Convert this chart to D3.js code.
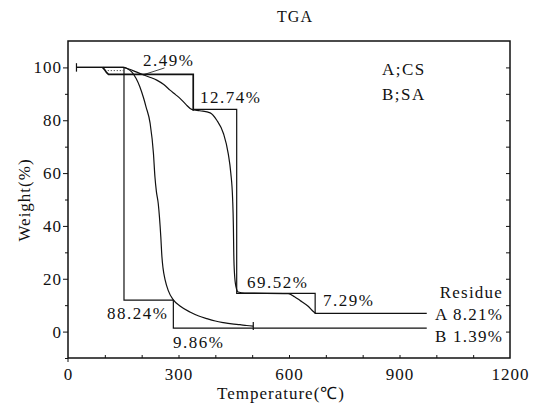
<!DOCTYPE html>
<head>
  <meta charset="utf-8">
  <script src="https://d3js.org/d3.v7.min.js"></script>
  <style>
    body { margin:0; background:#fff; }
    text { font-family: "Liberation Serif", serif; font-size: 17px; fill: #111; letter-spacing: 1px; }
    .curve, .step { fill: none; stroke: #111; stroke-width: 1.2; }
    .axis path, .axis line { stroke: #111; }
  </style>
</head>
<body>
  <svg width="536" height="407"></svg>
  <script>
    // curve A (CS) : temperature, weight %
    var tempA   = [23, 150, 165, 185, 204, 222, 241, 260, 277, 292, 304, 320, 336, 358, 386, 404, 422, 435, 442, 447, 449, 450, 452, 456, 462, 480, 598, 615, 630, 652, 666, 672];
    var weightA = [100, 100, 99.4, 98.3, 97.2, 96.3, 95.2, 93.5, 91.4, 89.7, 88.3, 86, 84.1, 83.6, 82.8, 80, 75, 67.4, 60, 50, 40, 30, 22, 17, 15, 14.6, 14.4, 13.2, 11.8, 9.6, 7.6, 6.9];
    // curve B (SA)
    var tempB   = [23, 150, 160, 173, 185, 195, 205, 212, 223, 232, 236, 240, 245, 252, 255, 258, 264, 272, 286, 305, 331, 355, 377, 400, 422, 445, 467, 485, 503];
    var weightB = [100, 100, 99.6, 98.3, 95.8, 92.7, 88.5, 85, 78.8, 67.4, 58.6, 53, 48.5, 35.8, 28.3, 24, 19.4, 15.6, 12, 9.6, 7.4, 5.9, 4.9, 4.0, 3.4, 2.9, 2.6, 2.3, 2.1];

    // step (tangent) constructions
    var stepA1 = [[94, 100], [100, 99], [105, 98], [110, 97.4], [340, 97.4], [340, 83.6]];
    var stepA2 = [[340, 84.1], [458, 84.1], [458, 14.5], [671, 14.5], [671, 6.9], [974, 6.9]];
    var stepB  = [[152, 100], [152, 11.9], [286, 11.9], [286, 1.3], [974, 1.3]];
    var dottedA = [[108, 98.8], [150, 98.8]];
    var leader  = [[204, 97.2], [262, 99.8]];

    var xTicks = [0, 300, 600, 900, 1200];
    var yTicks = [0, 20, 40, 60, 80, 100];

    var labels = [
      {t: "2.49%",  x: 143, y: 66},
      {t: "12.74%", x: 200, y: 103},
      {t: "A;CS",   x: 382, y: 75},
      {t: "B;SA",   x: 382, y: 100},
      {t: "69.52%", x: 247, y: 288},
      {t: "7.29%",  x: 323, y: 306},
      {t: "88.24%", x: 107, y: 319},
      {t: "9.86%",  x: 173, y: 348}
    ];
    var residue = [
      {t: "Residue", y: 298},
      {t: "A 8.21%", y: 320},
      {t: "B 1.39%", y: 342}
    ];

    var svg = d3.select("svg");
    var mLeft = 68, mRight = 510, mTop = 41, mBottom = 358;

    var x = d3.scaleLinear().domain([0, 1200]).range([mLeft, mRight]);
    var y = d3.scaleLinear().domain([-10, 110]).range([mBottom, mTop]);

    // frame
    svg.append("rect")
      .attr("x", mLeft).attr("y", mTop)
      .attr("width", mRight - mLeft).attr("height", mBottom - mTop)
      .attr("fill", "none").attr("stroke", "#111").attr("stroke-width", 1.5);

    // left axis
    svg.append("g").attr("class", "axis")
      .attr("transform", "translate(" + mLeft + ",0)")
      .call(d3.axisLeft(y).tickValues(yTicks).tickSize(5).tickPadding(1).tickFormat(d3.format("d")))
      .call(function(g) { g.select(".domain").remove(); g.selectAll("text").attr("font-family", null).attr("font-size", null); });
    svg.append("g").attr("class", "axis")
      .attr("transform", "translate(" + mLeft + ",0)")
      .call(d3.axisLeft(y).tickValues(d3.range(-10, 110, 20)).tickSize(3).tickFormat(""))
      .call(function(g) { g.select(".domain").remove(); });

    // right axis, inward ticks
    svg.append("g").attr("class", "axis")
      .attr("transform", "translate(" + mRight + ",0)")
      .call(d3.axisRight(y).tickValues(d3.range(0, 110, 10)).tickSize(-4).tickFormat(""))
      .call(function(g) { g.select(".domain").remove(); });

    // bottom axis: labels and inward ticks every 100
    svg.append("g").attr("class", "axis")
      .attr("transform", "translate(0," + mBottom + ")")
      .call(d3.axisBottom(x).tickValues(xTicks).tickSize(0).tickPadding(10).tickFormat(d3.format("d")))
      .call(function(g) { g.select(".domain").remove(); g.selectAll("text").attr("font-family", null).attr("font-size", null); });
    svg.append("g").attr("class", "axis")
      .attr("transform", "translate(0," + mBottom + ")")
      .call(d3.axisBottom(x).tickValues(d3.range(100, 1200, 100)).tickSize(-3).tickFormat(""))
      .call(function(g) { g.select(".domain").remove(); });
    svg.append("line")
      .attr("x1", x(0)).attr("x2", x(0))
      .attr("y1", mBottom).attr("y2", mBottom + 4)
      .attr("stroke", "#111");

    // axis titles
    svg.append("text")
      .attr("x", 281).attr("y", 399)
      .attr("text-anchor", "middle")
      .text("Temperature(℃)");
    svg.append("text")
      .attr("transform", "translate(30,200) rotate(-90)")
      .attr("text-anchor", "middle")
      .text("Weight(%)");
    svg.append("text")
      .attr("x", 295).attr("y", 22)
      .attr("text-anchor", "middle")
      .style("font-size", "16px")
      .text("TGA");

    // curves
    var curve = d3.line()
      .x(function(d) { return x(d[0]); })
      .y(function(d) { return y(d[1]); })
      .curve(d3.curveMonotoneX);
    var straight = d3.line()
      .x(function(d) { return x(d[0]); })
      .y(function(d) { return y(d[1]); });

    svg.append("path").attr("class", "curve")
      .attr("d", curve(d3.zip(tempA, weightA)));
    svg.append("path").attr("class", "curve")
      .attr("d", curve(d3.zip(tempB, weightB)));

    svg.append("path").attr("class", "step").attr("d", straight(stepA1)).style("stroke-width", 1.7);
    svg.append("path").attr("class", "step").attr("d", straight(stepA2));
    svg.append("path").attr("class", "step").attr("d", straight(stepB));
    svg.append("path").attr("class", "step").attr("d", straight(dottedA))
      .style("stroke-dasharray", "1,2").style("stroke-width", 0.9);
    svg.append("path").attr("class", "step").attr("d", straight(leader)).style("stroke-width", 0.8);

    // start / end markers
    svg.append("line")
      .attr("x1", x(tempA[0])).attr("x2", x(tempA[0]))
      .attr("y1", y(101.6)).attr("y2", y(98.4))
      .attr("stroke", "#111").attr("stroke-width", 1.2);
    svg.append("line")
      .attr("x1", x(tempB[tempB.length - 1])).attr("x2", x(tempB[tempB.length - 1]))
      .attr("y1", y(3.6)).attr("y2", y(0.6))
      .attr("stroke", "#111").attr("stroke-width", 1.2);

    // annotations
    svg.selectAll(".lbl")
      .data(labels)
      .enter()
      .append("text")
      .attr("x", function(d) { return d.x; })
      .attr("y", function(d) { return d.y; })
      .style("letter-spacing", "1.5px")
      .text(function(d) { return d.t; });

    svg.selectAll(".res")
      .data(residue)
      .enter()
      .append("text")
      .attr("x", 503)
      .attr("y", function(d) { return d.y; })
      .attr("text-anchor", "end")
      .style("letter-spacing", "1.2px")
      .text(function(d) { return d.t; });
  </script>
</body>
